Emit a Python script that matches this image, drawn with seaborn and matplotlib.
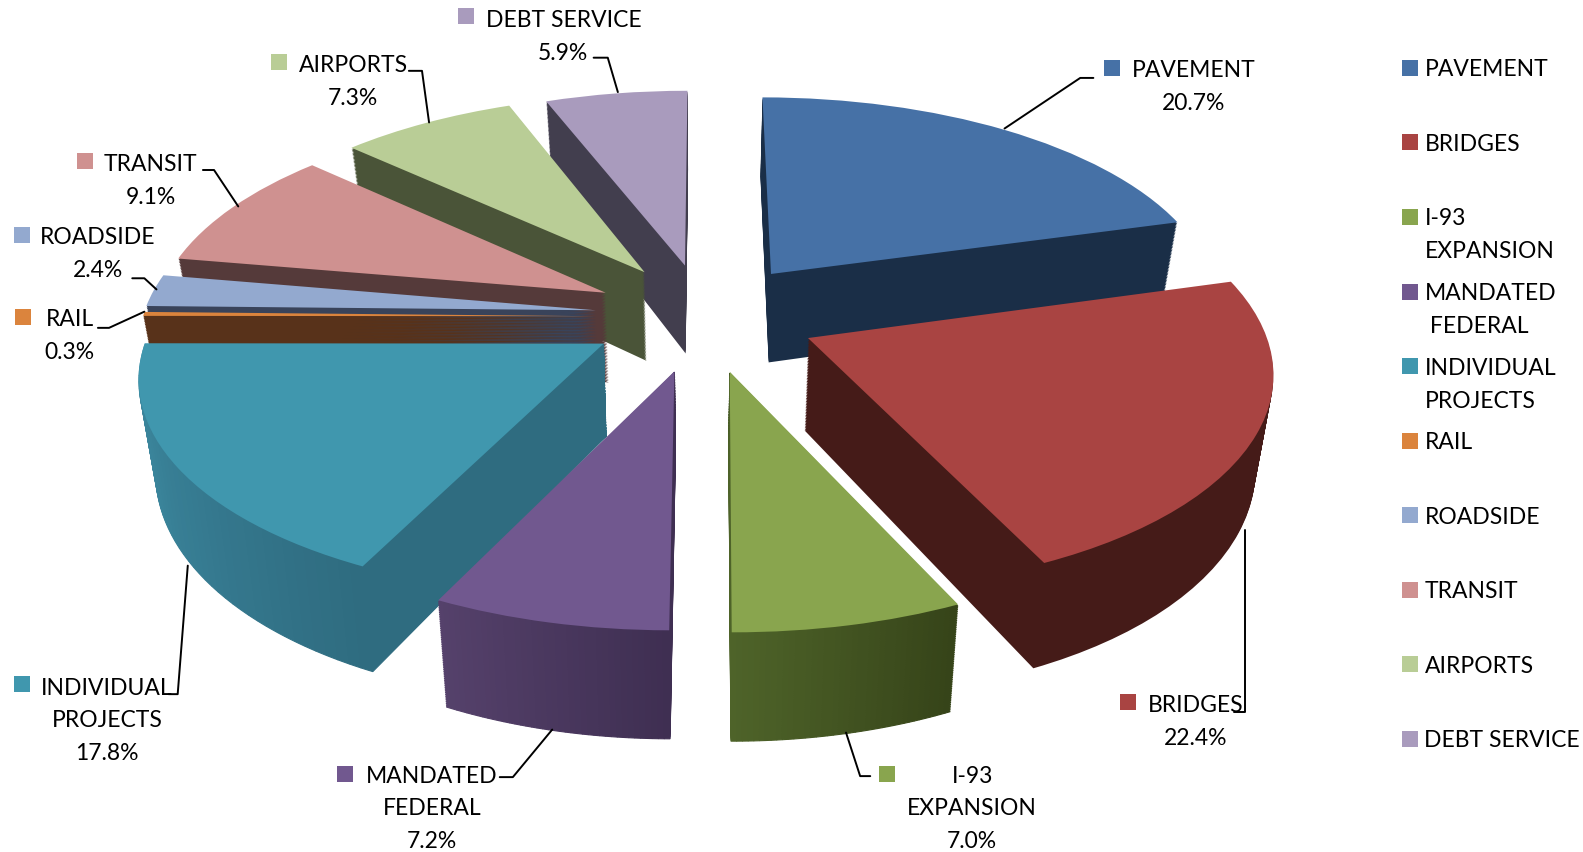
import numpy as np
import matplotlib
matplotlib.use("Agg")
import matplotlib.pyplot as plt
import matplotlib.patches as mpatches
import matplotlib.transforms as mtransforms
import seaborn as sns

categories = ["PAVEMENT", "BRIDGES", "I-93 EXPANSION", "MANDATED FEDERAL", "INDIVIDUAL PROJECTS",
              "RAIL", "ROADSIDE", "TRANSIT", "AIRPORTS", "DEBT SERVICE"]
shares = [20.7, 22.4, 7.0, 7.2, 17.8, 0.3, 2.4, 9.1, 7.3, 5.9]

top_colors = ["#4671a6", "#a94442", "#89a54e", "#71588f", "#4097ae",
              "#db843d", "#93a9cf", "#cf9190", "#b9cd96", "#a99bbd"]
wall_colors = ["#1a2e47", "#451b18", "#44561f", "#4b3a5c", "#2f6f83",
               "#58321a", "#39435a", "#553a3a", "#4a5438", "#423e4e"]
# walls that fade from left to right
wall_fades = {2: ["#4e6329", "#364419"], 3: ["#55416b", "#3f2f52"], 4: ["#3f8ea6", "#2f6c80"]}

# how far each slice is pulled out of the pie
pull = [0.28, 0.26, 0.23, 0.21, 0.21, 0.22, 0.22, 0.25, 0.25, 0.27]
# small hand shifts per slice, pixels
nudge = [(-2, 1), (1, -4), (8, 4), (-2, 8), (-13, 1), (-4, -2), (-4, -4), (7, -3), (8, -4), (8, 1)]
# painter's order, back of the pie first
draw_order = [0, 9, 8, 7, 6, 5, 4, 3, 2, 1]

# name lines, percent is added below, then marker and text places in pixels
label_lines = [["PAVEMENT"], ["BRIDGES"], ["I-93", "EXPANSION"], ["MANDATED", "FEDERAL"],
               ["INDIVIDUAL", "PROJECTS"], ["RAIL"], ["ROADSIDE"], ["TRANSIT"], ["AIRPORTS"], ["DEBT SERVICE"]]
label_xy = [(1182, 70), (1184, 697), (963, 767), (428, 767), (106, 680),
            (69, 316), (97, 235), (149, 163), (350, 65), (558, 20)]
marker_xy = [(1101, 68), (1117, 695), (879, 766), (342, 766), (22, 677),
             (23, 314), (22, 233), (84, 160), (276, 62), (462, 17)]
leaders = [[(995, 128), (1070, 78), (1083, 78)],
           [(1233, 525), (1233, 705), (1222, 705)],
           [(838, 725), (852, 768), (862, 768)],
           [(547, 722), (508, 769), (495, 769)],
           [(186, 560), (176, 687), (167, 687)],
           [(143, 309), (108, 325), (97, 325)],
           [(155, 287), (143, 276), (131, 276)],
           [(236, 205), (212, 169), (201, 169)],
           [(425, 122), (418, 71), (405, 71)],
           [(612, 92), (602, 58), (588, 58)]]

legend_lines = [["PAVEMENT"], ["BRIDGES"], ["I-93", "EXPANSION"], ["MANDATED", " FEDERAL"],
                ["INDIVIDUAL", "PROJECTS"], ["RAIL"], ["ROADSIDE"], ["TRANSIT"], ["AIRPORTS"], ["DEBT SERVICE"]]


class Tilt(mtransforms.Transform):
    # pie plane to picture pixels, seen in perspective, z goes down the walls
    input_dims = 2
    output_dims = 2
    is_separable = False

    def __init__(self, z=0.0, shift=(0, 0)):
        super().__init__()
        self.z = z
        self.shift = shift

    def transform_non_affine(self, xy):
        xy = np.asarray(xy)
        s = 7.5 / (7.5 + xy[:, 1])
        px = 692 + 448 * xy[:, 0] * s * (1 - self.z * 0.00035) + self.shift[0]
        py = 316 - 209 * xy[:, 1] * s + self.z * s + self.shift[1]
        return np.column_stack([px, py])


sns.set_theme(style="white")
plt.rcParams["font.family"] = ["Lato", "DejaVu Sans"]

fig, ax = plt.subplots(figsize=(15.83, 8.53), dpi=100)
fig.subplots_adjust(0, 0, 1, 1)

depths = np.arange(90, 0, -1.5)
rank = {s: i for i, s in enumerate(draw_order)}
fades = {i: sns.blend_palette(c, 40) for i, c in wall_fades.items()}
for n, z in enumerate(depths):
    wedges, _ = ax.pie(shares, explode=pull, colors=wall_colors, startangle=90, counterclock=False)
    for i, w in enumerate(wedges):
        tilt = Tilt(z, nudge[i]) + ax.transData
        w.set_transform(tilt)
        w.set_zorder(rank[i] * 2 + 1 + n * 0.001)
        w.set_linewidth(0)
        if i in fades:
            # same slice cut in thin pieces so the rim can fade
            w.set_visible(False)
            edges = np.linspace(w.theta1, w.theta2, len(fades[i]) + 1)
            for k, c in enumerate(fades[i]):
                piece = mpatches.Wedge(w.center, w.r, edges[k], edges[k + 1], facecolor=c, edgecolor=c,
                                       linewidth=0.8, joinstyle="bevel", transform=tilt, zorder=w.get_zorder())
                ax.add_patch(piece)

wedges, _ = ax.pie(shares, explode=pull, colors=top_colors, startangle=90, counterclock=False)
for i, w in enumerate(wedges):
    w.set_transform(Tilt(0, nudge[i]) + ax.transData)
    w.set_zorder(rank[i] * 2 + 2)
    w.set_linewidth(0)

# coordinates below at a slightly smaller scale
ax.set_aspect("auto")
ax.set_xlim(0, 1568)
ax.set_ylim(843, 0)
ax.axis("off")

for i, lines in enumerate(label_lines):
    x, y = label_xy[i]
    for j, t in enumerate(lines + [f"{shares[i]:.1f}%"]):
        ax.text(x, y + j * 32.5, t, ha="center", va="center", fontsize=16.5, color="black", zorder=40)
    ax.plot(*marker_xy[i], marker="s", ms=11, color=top_colors[i], mew=0, zorder=40)
    xs, ys = zip(*leaders[i])
    ax.plot(xs, ys, color="black", lw=1.4, zorder=39)

# legend rows keep an even step whatever the wrapping
for i, lines in enumerate(legend_lines):
    y = 69 + i * 73.7
    ax.plot(1397, y - 1, marker="s", ms=11, color=top_colors[i], mew=0, zorder=40)
    for j, t in enumerate(lines):
        ax.text(1411, y + j * 32.5, t, ha="left", va="center", fontsize=16.5, color="black", zorder=40)

fig.savefig("out.png", dpi=100)
